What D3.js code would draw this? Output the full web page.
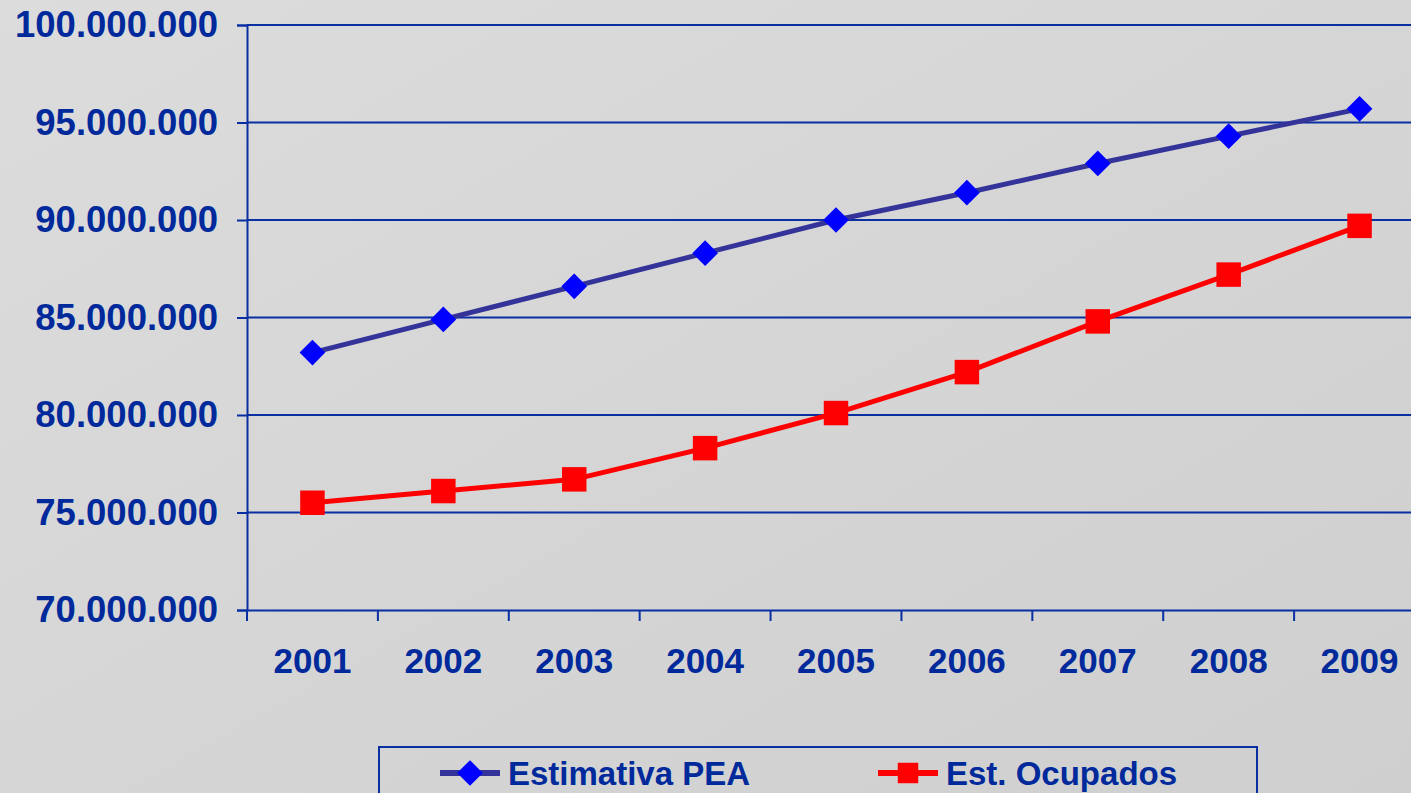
<!DOCTYPE html>
<html>
<head>
<meta charset="utf-8">
<script src="https://cdn.jsdelivr.net/npm/d3@7"></script>
<style>
  html, body { margin:0; padding:0; overflow:hidden; }
  body { width:1411px; height:793px; }
  text { font-family:"Liberation Sans", Arial, sans-serif; font-weight:bold; fill:#00299b; }
</style>
</head>
<body>
<div id="chart"></div>
<script>
// data
var years = ["2001","2002","2003","2004","2005","2006","2007","2008","2009"];
var pea = [83.2, 84.9, 86.6, 88.3, 90.0, 91.4, 92.9, 94.3, 95.7]; // milhoes
var ocupados = [75.5, 76.1, 76.7, 78.3, 80.1, 82.2, 84.8, 87.2, 89.7];
var yTicks = [70, 75, 80, 85, 90, 95, 100];
var seriesNames = ["Estimativa PEA", "Est. Ocupados"];

var W = 1411, H = 793;
var axisCol = "#0a2fa3";

var svg = d3.select("#chart").append("svg")
  .attr("width", W).attr("height", H);

// background gradient
var defs = svg.append("defs");
var grad = defs.append("linearGradient").attr("id","bg")
  .attr("x1","0").attr("y1","0").attr("x2","1").attr("y2","1");
grad.append("stop").attr("offset","0").attr("stop-color","#dcdcdc");
grad.append("stop").attr("offset","1").attr("stop-color","#cfcfcf");
svg.append("rect").attr("width",W).attr("height",H).attr("fill","url(#bg)");

var x = d3.scaleBand().domain(years).range([247, 1425]);
var y = d3.scaleLinear().domain([70, 100]).range([610, 25]);

function fmt(v){
  return d3.format(",")(v*1000000).replace(/,/g, ".");
}

// gridlines
svg.append("g").selectAll("line").data(yTicks.slice(1)).enter().append("line")
  .attr("x1", 247).attr("x2", 1425)
  .attr("y1", function(d){ return y(d); }).attr("y2", function(d){ return y(d); })
  .attr("stroke", axisCol).attr("stroke-width", 2);

// y axis
var yAxis = svg.append("g").attr("transform","translate(247,0)")
  .call(d3.axisLeft(y).tickValues(yTicks).tickFormat(fmt).tickSize(10).tickPadding(19));
yAxis.select(".domain").attr("stroke", axisCol).attr("stroke-width", 2);
yAxis.selectAll(".tick line").attr("stroke", axisCol).attr("stroke-width", 2);
yAxis.selectAll("text").attr("font-size", 36.5).attr("fill","#00299b")
  .attr("font-family","Liberation Sans, Arial, sans-serif").attr("font-weight","bold");

// x axis
var xAxis = svg.append("g").attr("transform","translate(0,610)")
  .call(d3.axisBottom(x).tickSize(0).tickPadding(38));
xAxis.select(".domain").attr("stroke", axisCol).attr("stroke-width", 2);
xAxis.selectAll("text").attr("font-size", 35).attr("fill","#00299b")
  .attr("font-family","Liberation Sans, Arial, sans-serif").attr("font-weight","bold");
// x ticks between categories
svg.append("g").selectAll("line").data(years).enter().append("line")
  .attr("x1", function(d){ return x(d); }).attr("x2", function(d){ return x(d); })
  .attr("y1", 610).attr("y2", 621)
  .attr("stroke", axisCol).attr("stroke-width", 2);

var cx = function(d,i){ return x(years[i]) + x.bandwidth()/2; };
var line = d3.line().x(cx).y(function(d){ return y(d); });

// PEA
svg.append("path").datum(pea).attr("d", line)
  .attr("fill","none").attr("stroke","#333399").attr("stroke-width",5);
var diamond = d3.symbol().type(d3.symbolSquare).size(330);
svg.append("g").selectAll("path").data(pea).enter().append("path")
  .attr("d", diamond)
  .attr("transform", function(d,i){ return "translate(" + cx(d,i) + "," + y(d) + ") rotate(45)"; })
  .attr("fill","#0000ff");

// Ocupados
svg.append("path").datum(ocupados).attr("d", line)
  .attr("fill","none").attr("stroke","#ff0000").attr("stroke-width",5);
var square = d3.symbol().type(d3.symbolSquare).size(600);
svg.append("g").selectAll("path").data(ocupados).enter().append("path")
  .attr("d", square)
  .attr("transform", function(d,i){ return "translate(" + cx(d,i) + "," + y(d) + ")"; })
  .attr("fill","#ff0000");

// legend
var lg = svg.append("g");
lg.append("rect").attr("x",379).attr("y",747).attr("width",878).attr("height",60)
  .attr("fill","none").attr("stroke",axisCol).attr("stroke-width",2);

var lgItems = [
  {name: seriesNames[0], x: 440, line:"#333399", fill:"#0000ff", sym: diamond, rot: 45},
  {name: seriesNames[1], x: 878, line:"#ff0000", fill:"#ff0000", sym: d3.symbol().type(d3.symbolSquare).size(420), rot: 0}
];
lgItems.forEach(function(it){
  lg.append("line").attr("x1", it.x).attr("x2", it.x + 60).attr("y1", 773).attr("y2", 773)
    .attr("stroke", it.line).attr("stroke-width", 6);
  lg.append("path").attr("d", it.sym)
    .attr("transform","translate(" + (it.x + 30) + ",773) rotate(" + it.rot + ")")
    .attr("fill", it.fill);
  lg.append("text").attr("x", it.x + 68).attr("y", 785).attr("font-size", 33).text(it.name);
});
</script>
</body>
</html>
